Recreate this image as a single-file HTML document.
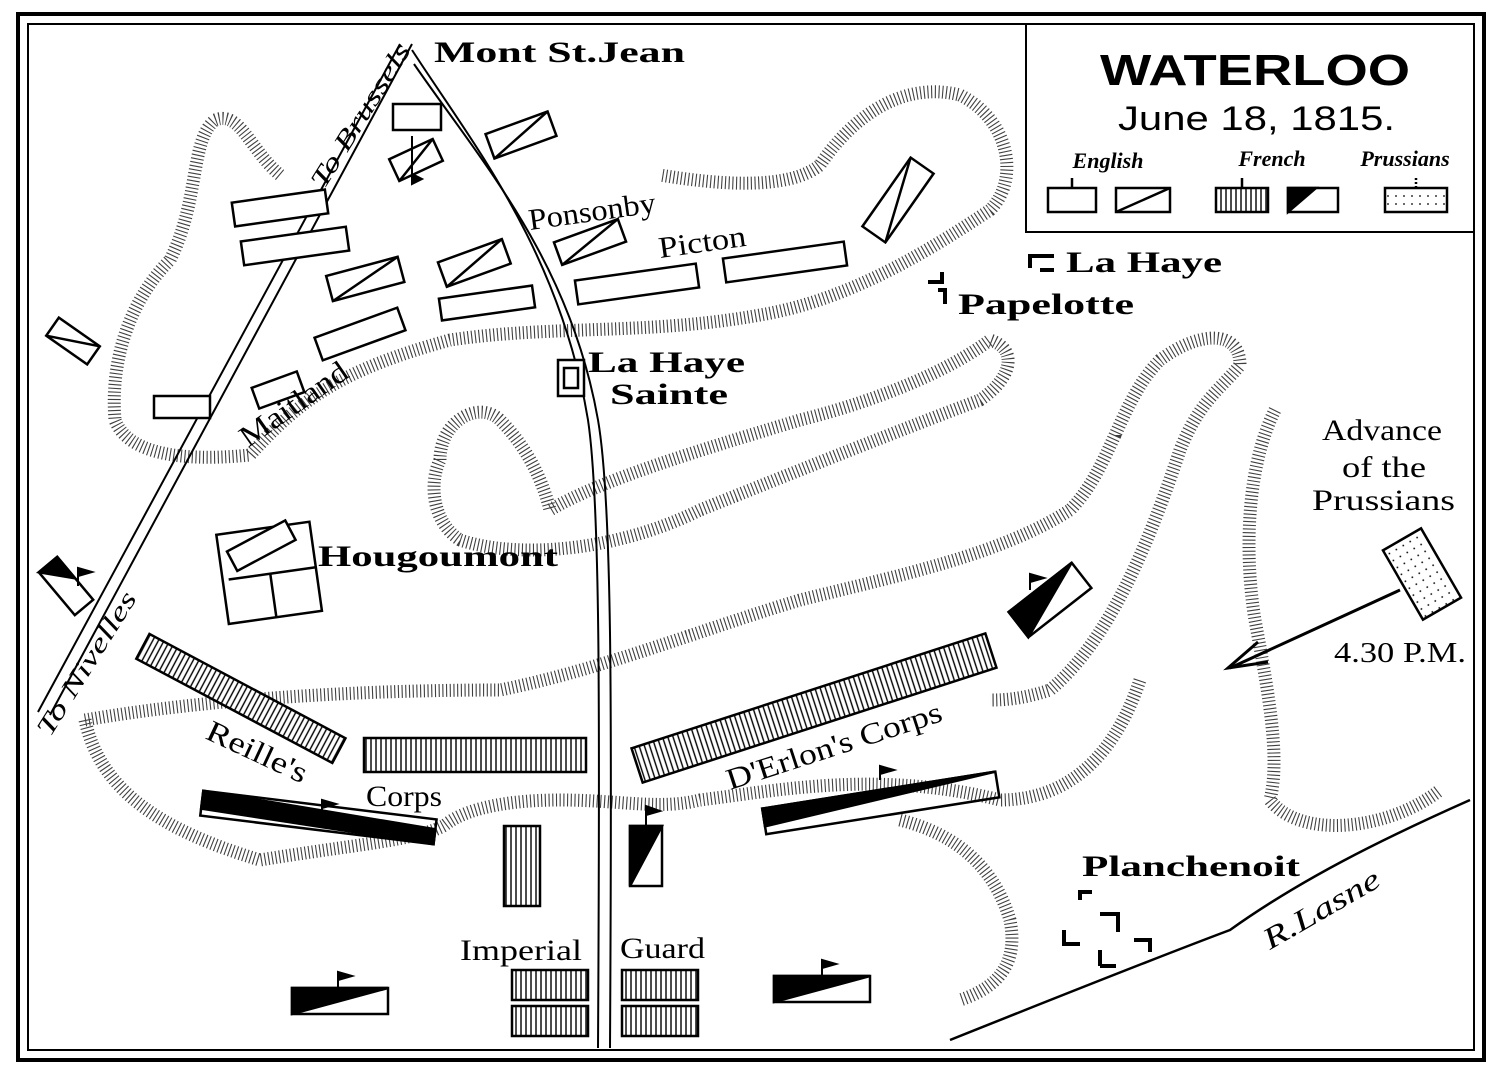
<!DOCTYPE html>
<html><head><meta charset="utf-8"><style>
html,body{margin:0;padding:0;background:#fff;}
svg{display:block;}
text{font-family:"Liberation Serif",serif;fill:#000;}
.b{font-family:"Liberation Serif",serif;font-weight:bold;}
.s{font-family:"Liberation Sans",sans-serif;}
</style></head><body>
<svg width="1500" height="1074" viewBox="0 0 1500 1074" xmlns="http://www.w3.org/2000/svg">
<defs>
<pattern id="vl" width="5" height="5" patternUnits="userSpaceOnUse"><rect width="5" height="5" fill="#fff"/><line x1="1" y1="0" x2="1" y2="5" stroke="#000" stroke-width="1.4"/></pattern>
<pattern id="dots" width="8" height="8" patternUnits="userSpaceOnUse"><rect width="8" height="8" fill="#fff"/><circle cx="4" cy="4" r="0.9" fill="#000"/></pattern>
</defs>
<rect x="0" y="0" width="1500" height="1074" fill="#fff"/>
<rect x="18" y="14" width="1466" height="1046" fill="none" stroke="#000" stroke-width="4"/>
<rect x="28" y="24" width="1446" height="1026" fill="none" stroke="#000" stroke-width="2"/>
<!-- legend box -->
<rect x="1026" y="24" width="448" height="208" fill="#fff" stroke="#000" stroke-width="2"/>
<text x="1100" y="85" class="s" font-size="44" font-weight="bold" textLength="310" lengthAdjust="spacingAndGlyphs">WATERLOO</text>
<text x="1118" y="130" class="s" font-size="34" textLength="277" lengthAdjust="spacingAndGlyphs">June 18, 1815.</text>
<text x="1108" y="168" text-anchor="middle" font-size="22" font-style="italic" font-weight="bold">English</text>
<text x="1272" y="166" text-anchor="middle" font-size="22" font-style="italic" font-weight="bold">French</text>
<text x="1405" y="166" text-anchor="middle" font-size="22" font-style="italic" font-weight="bold">Prussians</text>
<g stroke="#000" stroke-width="2.5" fill="#fff">
<rect x="1048" y="188" width="48" height="24"/><line x1="1072" y1="188" x2="1072" y2="178"/>
<rect x="1116" y="188" width="54" height="24"/><line x1="1116" y1="212" x2="1170" y2="188"/>
<rect x="1216" y="188" width="52" height="24" fill="url(#vl)"/><line x1="1242" y1="188" x2="1242" y2="178"/>
<rect x="1288" y="188" width="50" height="24"/><polygon points="1288,188 1316,188 1288,212" fill="#000"/>
<rect x="1385" y="188" width="62" height="24" fill="url(#dots)"/><line x1="1416" y1="188" x2="1416" y2="178" stroke-dasharray="2 2"/>
</g>
<!-- hachure ridges -->
<g fill="none" stroke="#000" stroke-width="13" stroke-dasharray="1.1 2.6" stroke-linejoin="round" opacity="0.75">
<path d="M280,175 C250,150 240,110 215,120 C190,140 200,200 170,260 C130,300 110,360 115,420 C130,460 200,460 250,455 C300,400 340,370 450,340 C550,325 650,335 760,315 C850,300 930,250 990,210 C1020,180 1010,120 960,95 C900,80 850,120 820,165 C790,190 720,185 660,175"/>
<path d="M440,460 C440,420 480,400 500,420 C520,440 540,470 550,510 C600,480 700,450 800,420 C880,400 950,370 990,340 C1020,350 1010,380 980,400 C900,430 800,470 700,510 C620,550 520,560 460,540 C430,520 430,480 440,460"/>
<path d="M85,720 C200,700 350,690 500,690 C600,670 700,630 800,600 C900,575 1000,555 1070,510 C1110,470 1120,400 1160,360 C1200,330 1240,330 1240,365 C1220,390 1200,400 1180,450 C1150,540 1110,640 1050,690 C1020,700 1000,700 990,700"/>
<path d="M85,720 C100,790 160,830 260,860 C350,845 420,840 445,825 C470,805 520,800 560,800 C620,800 660,810 700,800 C780,790 880,770 1000,800 C1080,800 1120,740 1140,680"/>
<path d="M1275,410 C1245,470 1245,560 1255,620 C1270,700 1280,760 1270,800 C1300,840 1390,830 1440,790"/>
<path d="M900,820 C960,835 995,870 1010,920 C1020,970 990,990 960,1000"/>
</g>
<!-- roads -->
<g stroke="#000" stroke-width="2" fill="none">
<path d="M38,712 L400,44"/><path d="M50,715 L412,44"/>
<path d="M412,50 C470,140 560,250 588,420 C600,500 600,700 598,1048"/>
<path d="M414,64 C480,160 570,260 598,420 C612,500 612,700 610,1048"/>
<path d="M950,1040 C1050,1000 1150,960 1230,930 C1300,880 1380,840 1470,800" stroke-width="2.5"/>
<path d="M1400,590 L1230,668" stroke-width="3"/>
<path d="M1258,642 L1228,668 L1268,662" stroke-width="3"/>
</g>
<!-- English units -->
<g stroke="#000" stroke-width="2.5" fill="#fff">
<rect x="393" y="104" width="48" height="26"/>
<g transform="rotate(-25 416 160)"><rect x="392" y="148" width="48" height="24"/><line x1="392" y1="172" x2="440" y2="148"/></g>
<g transform="rotate(-20 521 135)"><rect x="488" y="122" width="66" height="26"/><line x1="488" y1="148" x2="554" y2="122"/></g>
<g transform="rotate(-8 280 208)"><rect x="233" y="196" width="94" height="24"/></g>
<g transform="rotate(-8 295 246)"><rect x="242" y="234" width="106" height="24"/></g>
<g transform="rotate(-15 365 278)"><rect x="328" y="266" width="74" height="26"/><line x1="328" y1="292" x2="402" y2="266"/></g>
<g transform="rotate(-20 474 262)"><rect x="440" y="250" width="68" height="26"/><line x1="440" y1="276" x2="508" y2="250"/></g>
<g transform="rotate(-8 487 303)"><rect x="440" y="292" width="94" height="22"/></g>
<g transform="rotate(-20 360 334)"><rect x="316" y="322" width="88" height="24"/></g>
<g transform="rotate(-20 590 242)"><rect x="556" y="230" width="68" height="24"/><line x1="556" y1="254" x2="624" y2="230"/></g>
<g transform="rotate(-8 637 284)"><rect x="576" y="272" width="122" height="24"/></g>
<g transform="rotate(-8 785 262)"><rect x="724" y="250" width="122" height="24"/></g>
<g transform="rotate(-20 278 390)"><rect x="254" y="379" width="48" height="22"/></g>
<rect x="154" y="396" width="56" height="22"/>
<g transform="rotate(-55 898 200)"><rect x="856" y="186" width="84" height="28"/><line x1="856" y1="214" x2="940" y2="186"/></g>
<g transform="rotate(35 73 341)"><rect x="48" y="330" width="50" height="22"/><line x1="48" y1="352" x2="98" y2="330"/></g>
<g transform="rotate(50 66 586)"><rect x="38" y="574" width="56" height="24"/><polygon points="38,574 66,574 38,598" fill="#000"/></g>
<!-- Hougoumont -->
<g transform="rotate(-8 268 572)"><rect x="222" y="528" width="94" height="90"/><line x1="228" y1="574" x2="316" y2="574"/><line x1="270" y1="574" x2="270" y2="618"/><rect x="232" y="534" width="66" height="22" transform="rotate(-20 265 545)"/></g>
<rect x="558" y="360" width="26" height="36"/><rect x="564" y="368" width="14" height="20"/>
<!-- Prussians -->
<g transform="rotate(-30 1422 574)"><rect x="1400" y="534" width="44" height="80" fill="url(#dots)"/></g>
<!-- French -->
<g transform="rotate(28 240 698)"><rect x="130" y="684" width="222" height="28" fill="url(#vl)"/></g>
<rect x="364" y="738" width="222" height="34" fill="url(#vl)"/>
<g transform="rotate(-18 814 708)"><rect x="628" y="690" width="372" height="36" fill="url(#vl)"/></g>
<g transform="rotate(-38 1050 600)"><rect x="1010" y="584" width="80" height="32"/><polygon points="1010,616 1010,584 1090,584" fill="#000"/></g>
<g transform="rotate(7 318 825)"><polygon points="200,805 435,815 435,830 200,823" fill="#000"/><rect x="200" y="805" width="235" height="25" fill="none"/></g>
<g transform="rotate(-9 880 798)"><polygon points="762,790 998,790 762,808" fill="#000"/><rect x="762" y="790" width="236" height="26" fill="none"/></g>
<rect x="504" y="826" width="36" height="80" fill="url(#vl)"/>
<rect x="630" y="826" width="32" height="60"/><polygon points="630,826 662,826 630,886" fill="#000"/>
<rect x="292" y="988" width="96" height="26"/><polygon points="292,988 388,988 292,1014" fill="#000"/>
<rect x="774" y="976" width="96" height="26"/><polygon points="774,976 870,976 774,1002" fill="#000"/>
<rect x="512" y="970" width="76" height="30" fill="url(#vl)"/><rect x="512" y="1006" width="76" height="30" fill="url(#vl)"/>
<rect x="622" y="970" width="76" height="30" fill="url(#vl)"/><rect x="622" y="1006" width="76" height="30" fill="url(#vl)"/>
</g>
<!-- villages -->
<g stroke="#000" stroke-width="4" fill="none">
<path d="M1030,268 L1030,256 L1054,256 M1040,270 L1054,270"/>
<path d="M928,282 L942,282 L942,272 M938,290 L945,290 L945,304"/>
<path d="M1080,900 L1080,892 L1092,892 M1064,930 L1064,944 L1080,944 M1100,914 L1118,914 L1118,932 M1134,940 L1150,940 L1150,952 M1100,966 L1116,966 M1100,950 L1100,966"/>
</g>
<!-- flags small -->
<g stroke="#000" stroke-width="2" fill="#000">
<path d="M412,136 v48 M412,184 l10,-5 l-10,-5z"/>
<path d="M322,812 v-12 l14,4 l-14,4" />
<path d="M880,780 v-14 l14,4 l-14,4"/>
<path d="M646,826 v-20 l14,5 l-14,4"/>
<path d="M338,988 v-16 l14,4 l-14,4"/>
<path d="M822,976 v-16 l14,4 l-14,4"/>
<path d="M1030,590 v-16 l14,4 l-14,4"/>
<path d="M78,586 v-18 l14,4 l-14,4"/>
</g>
<!-- labels -->
<g lengthAdjust="spacingAndGlyphs">
<text x="434" y="62" class="b" font-size="30" textLength="251" lengthAdjust="spacingAndGlyphs">Mont St.Jean</text>
<text x="530" y="230" font-size="30" transform="rotate(-8 530 230)" textLength="128" lengthAdjust="spacingAndGlyphs">Ponsonby</text>
<text x="660" y="258" font-size="30" transform="rotate(-8 660 258)" textLength="88" lengthAdjust="spacingAndGlyphs">Picton</text>
<text x="1066" y="272" class="b" font-size="30" textLength="156" lengthAdjust="spacingAndGlyphs">La Haye</text>
<text x="958" y="314" class="b" font-size="30" textLength="176" lengthAdjust="spacingAndGlyphs">Papelotte</text>
<text x="588" y="372" class="b" font-size="30" textLength="157" lengthAdjust="spacingAndGlyphs">La Haye</text>
<text x="610" y="404" class="b" font-size="30" textLength="118" lengthAdjust="spacingAndGlyphs">Sainte</text>
<text x="248" y="448" font-size="30" transform="rotate(-35 248 448)" textLength="125" lengthAdjust="spacingAndGlyphs">Maitland</text>
<text x="324" y="190" font-size="26" font-style="italic" transform="rotate(-58 324 190)" textLength="165" lengthAdjust="spacingAndGlyphs">To Brussels</text>
<text x="50" y="738" font-size="26" font-style="italic" transform="rotate(-58 50 738)" textLength="165" lengthAdjust="spacingAndGlyphs">To Nivelles</text>
<text x="318" y="566" class="b" font-size="30" textLength="240" lengthAdjust="spacingAndGlyphs">Hougoumont</text>
<text x="1322" y="440" font-size="30" textLength="120" lengthAdjust="spacingAndGlyphs">Advance</text>
<text x="1342" y="477" font-size="30" textLength="84" lengthAdjust="spacingAndGlyphs">of the</text>
<text x="1312" y="510" font-size="30" textLength="143" lengthAdjust="spacingAndGlyphs">Prussians</text>
<text x="1334" y="662" font-size="28" textLength="132" lengthAdjust="spacingAndGlyphs">4.30 P.M.</text>
<text x="204" y="738" font-size="30" transform="rotate(25 204 738)" textLength="108" lengthAdjust="spacingAndGlyphs">Reille's</text>
<text x="366" y="806" font-size="30" textLength="76" lengthAdjust="spacingAndGlyphs">Corps</text>
<text x="730" y="790" font-size="30" transform="rotate(-18 730 790)" textLength="225" lengthAdjust="spacingAndGlyphs">D'Erlon's Corps</text>
<text x="1082" y="876" class="b" font-size="30" textLength="218" lengthAdjust="spacingAndGlyphs">Planchenoit</text>
<text x="1270" y="950" font-size="30" font-style="italic" transform="rotate(-30 1270 950)" textLength="130" lengthAdjust="spacingAndGlyphs">R.Lasne</text>
<text x="460" y="960" font-size="30" textLength="122" lengthAdjust="spacingAndGlyphs">Imperial</text>
<text x="620" y="958" font-size="30" textLength="85" lengthAdjust="spacingAndGlyphs">Guard</text>
</g>
</svg>
</body></html>
